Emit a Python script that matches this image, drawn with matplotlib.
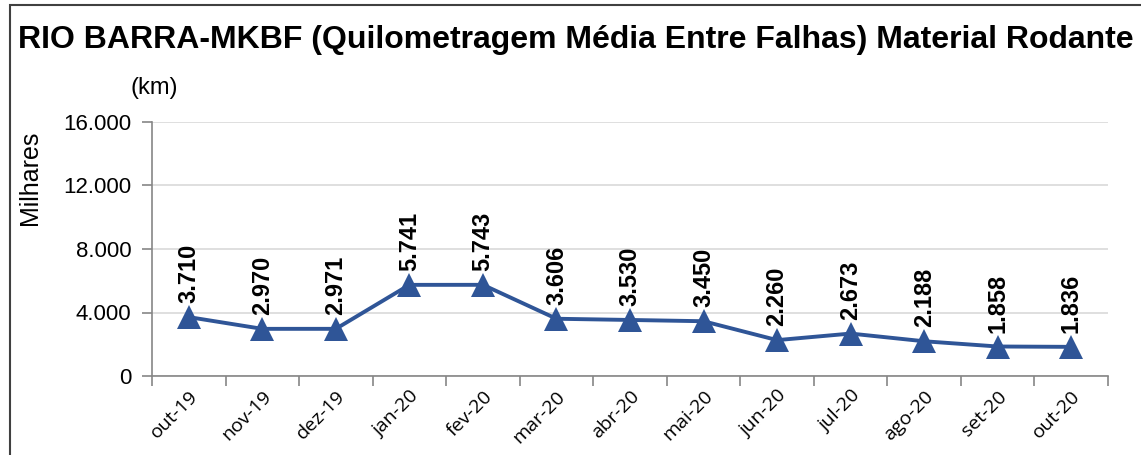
import matplotlib
matplotlib.use('Agg')
import matplotlib.pyplot as pyplot
from matplotlib.patches import Rectangle


# Data

months = ['out-19', 'nov-19', 'dez-19', 'jan-20', 'fev-20', 'mar-20', 'abr-20',
          'mai-20', 'jun-20', 'jul-20', 'ago-20', 'set-20', 'out-20']
mkbf = [3710, 2970, 2971, 5741, 5743, 3606, 3530, 3450, 2260, 2673, 2188, 1858, 1836]
yticks = [0, 4000, 8000, 12000, 16000]


def fmt(v):
    return '{:,}'.format(v).replace(',', '.')


# Plot

pyplot.rcParams['font.family'] = ['Liberation Sans', 'DejaVu Sans']

fig = pyplot.figure(figsize=(11.41, 4.55), dpi=100)
ax = fig.add_axes([152 / 1141, 1 - 376 / 455, (1108 - 152) / 1141, (376 - 122) / 455])

x = list(range(len(months)))
ax.plot(x, mkbf, color='#2f5597', linewidth=2.8, marker='^', markersize=17,
        markeredgewidth=0, zorder=3, clip_on=False)

for xi, v in zip(x, mkbf):
    ax.annotate(fmt(v), (xi, v), xytext=(0, 10), textcoords='offset points',
                rotation=90, ha='center', va='bottom', fontsize=17, fontweight='bold')

ax.set_xlim(-0.5, len(months) - 0.5)
ax.set_ylim(0, 16000)
ax.set_yticks(yticks)
ax.set_yticklabels([fmt(v) for v in yticks], fontsize=16)
ax.yaxis.grid(True, color='#d9d9d9', linewidth=1.2)
ax.set_axisbelow(True)

ax.set_xticks([i - 0.5 for i in range(len(months) + 1)])
ax.set_xticklabels([])
ax.set_xticks(x, minor=True)
ax.set_xticklabels(months, minor=True, rotation=45, ha='right', va='top',
                   rotation_mode='anchor', fontsize=14, family=['Open Sans', 'DejaVu Sans'])
ax.tick_params(axis='x', which='minor', length=0, pad=8)
ax.tick_params(axis='x', which='major', length=7, color='#868686', width=1.2)
ax.tick_params(axis='y', length=7, color='#868686', width=1.2, pad=8)

for s in ['top', 'right']:
    ax.spines[s].set_visible(False)
for s in ['left', 'bottom']:
    ax.spines[s].set_color('#868686')
    ax.spines[s].set_linewidth(1.2)

fig.text(18 / 1141, 1 - 40 / 455, 'RIO BARRA-MKBF (Quilometragem Média Entre Falhas) Material Rodante',
         fontsize=23, fontweight='bold', ha='left', va='center')
fig.text(130 / 1141, 1 - 88 / 455, '(km)', fontsize=17, ha='left', va='center')
fig.text(30 / 1141, 1 - 178 / 455, 'Milhares', fontsize=18, rotation=90, ha='center', va='center')

fig.patches.append(Rectangle((10 / 1141, -0.1), 1.2, 1 - 5 / 455 + 0.1, transform=fig.transFigure,
                             fill=False, edgecolor='#404040', linewidth=1.5))

pyplot.savefig('out.png', dpi=100)
pyplot.clf()
